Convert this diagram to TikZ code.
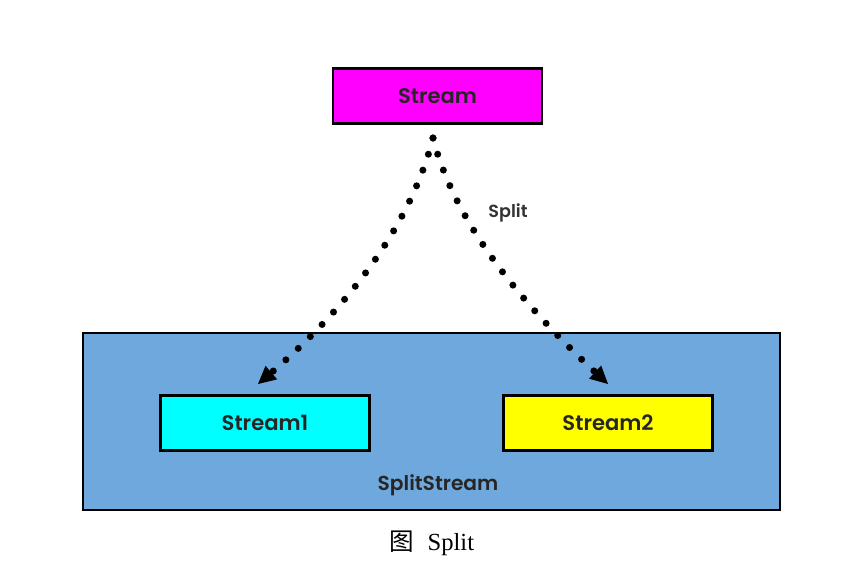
\documentclass[tikz,border=0pt]{standalone}
\usepackage{fontspec}
\setmainfont{Poppins}[BoldFont={Poppins SemiBold}]
\newfontfamily\capfont{Liberation Serif}
\newfontfamily\cjk{Noto Sans CJK SC}
\usetikzlibrary{arrows.meta}
\definecolor{splitblue}{RGB}{111,168,220}
\definecolor{streammag}{RGB}{255,0,255}
\definecolor{streamcyan}{RGB}{0,255,255}
\definecolor{streamyel}{RGB}{255,255,0}
\begin{document}
\begin{tikzpicture}[x=0.02cm, y=-0.02cm,
      stream/.style={draw, line width=1.7pt, minimum width=209*0.02cm, minimum height=55*0.02cm, inner sep=0pt, font=\bfseries\fontsize{12}{14}\selectfont, text=black!85},
      flow/.style={line width=4pt, line cap=round, dash pattern=on 0pt off 9.6pt, shorten >=14*0.02cm},
      tip/.style={line width=0.8pt, -{Triangle[length=10pt, width=10pt]}}
    ]
    \useasboundingbox (0,0) rectangle (853,566);

    % SplitStream container
    \node[draw, line width=1.5pt, fill=splitblue, minimum width=697*0.02cm, minimum height=177*0.02cm, inner sep=0pt] (split) at (431.5,421.5) {};
    \node[font=\bfseries\fontsize{11.5}{14}\selectfont, text=black!85] (splitlbl) at (438,485) {SplitStream};

    % source and the two substreams
    \node[stream, fill=streammag] (top) at (437.5,96) {Stream};
    \node[stream, fill=streamcyan] (s1) at (265,422.5) {Stream1};
    \node[stream, fill=streamyel] (s2) at (608,422.5) {Stream2};

    % dotted split arrows
    \coordinate (src) at (433,138);
    \coordinate (s1tip) at (258,384);
    \coordinate (s2tip) at (608,384);
    \draw[flow] (src) .. controls (410,228) and (344,311) .. (s1tip);
    \draw[tip] (272,372) -- (s1tip);
    \draw[flow] (src) .. controls (456,228) and (529,311) .. (s2tip);
    \draw[tip] (595,372) -- (s2tip);
    \node[font=\bfseries\fontsize{10}{12}\selectfont, text=black!80] (splittxt) at (508,213) {Split};

    % caption
    \node[font=\fontsize{14}{16}\selectfont] (cap) at (432,543) {{\cjk 图}\ \ {\capfont Split}};

    \end{tikzpicture}
\end{document}
